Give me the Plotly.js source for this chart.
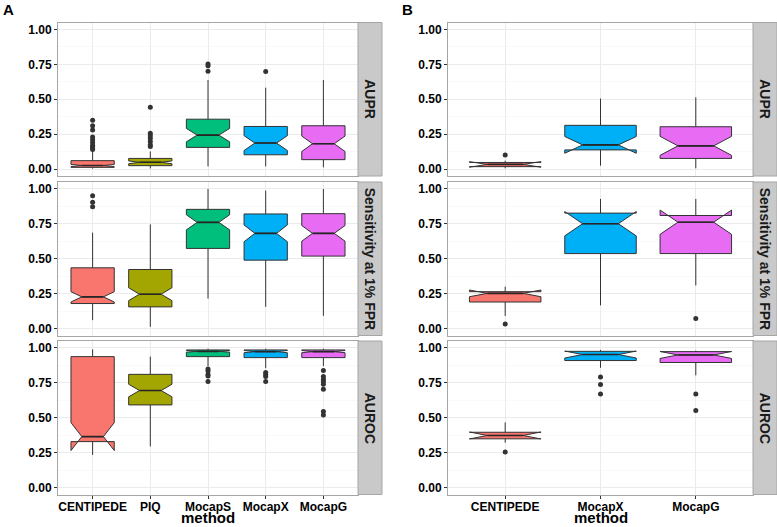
<!DOCTYPE html>
<html>
<head>
<meta charset="utf-8">
<script src="https://cdn.plot.ly/plotly-3.0.1.min.js"></script>
<style>html,body{margin:0;padding:0;background:#fff;}#chart{width:777px;height:527px;}</style>
</head>
<body>
<div id="chart"></div>
<script>
// ---------- categories ----------
const methodsA = ['CENTIPEDE', 'PIQ', 'MocapS', 'MocapX', 'MocapG'];
const methodsB = ['CENTIPEDE', 'MocapX', 'MocapG'];
const metrics = ['AUPR', 'Sensitivity at 1% FPR', 'AUROC'];
const yTickVals = [0, 0.25, 0.5, 0.75, 1];
const yTickText = ['0.00', '0.25', '0.50', '0.75', '1.00'];

// ---------- Panel A : AUPR ----------
const A_AUPR_q1    = [0.012, 0.024, 0.155, 0.102, 0.067];
const A_AUPR_med   = [0.025, 0.048, 0.243, 0.186, 0.181];
const A_AUPR_q3    = [0.060, 0.076, 0.357, 0.305, 0.310];
const A_AUPR_lo    = [0.003, 0.004, 0.019, 0.019, 0.012];
const A_AUPR_hi    = [0.130, 0.126, 0.638, 0.583, 0.638];
const A_AUPR_notch = [0.008, 0.010, 0.048, 0.053, 0.055];
const A_AUPR_out   = [[0.35, 0.31, 0.28, 0.23, 0.21, 0.19, 0.17, 0.16, 0.15, 0.14],
                      [0.443, 0.257, 0.238, 0.221, 0.198, 0.174, 0.162],
                      [0.752, 0.74, 0.70], [0.698], []];
// ---------- Panel A : Sensitivity ----------
const A_SENS_q1    = [0.179, 0.155, 0.574, 0.490, 0.519];
const A_SENS_med   = [0.227, 0.246, 0.761, 0.682, 0.682];
const A_SENS_q3    = [0.435, 0.423, 0.854, 0.821, 0.823];
const A_SENS_lo    = [0.060, 0.012, 0.215, 0.155, 0.091];
const A_SENS_hi    = [0.687, 0.746, 1.000, 0.988, 1.000];
const A_SENS_notch = [0.037, 0.046, 0.054, 0.060, 0.056];
const A_SENS_out   = [[0.952, 0.904, 0.873], [], [], [], []];
// ---------- Panel A : AUROC ----------
const A_AUROC_q1    = [0.329, 0.592, 0.938, 0.931, 0.931];
const A_AUROC_med   = [0.365, 0.695, 0.976, 0.974, 0.974];
const A_AUROC_q3    = [0.938, 0.811, 0.986, 0.986, 0.986];
const A_AUROC_lo    = [0.234, 0.294, 0.870, 0.855, 0.870];
const A_AUROC_hi    = [0.990, 0.938, 0.995, 0.995, 0.995];
const A_AUROC_notch = [0.100, 0.045, 0.006, 0.008, 0.008];
const A_AUROC_out   = [[], [],
                       [0.850, 0.835, 0.810, 0.800, 0.760],
                       [0.825, 0.810, 0.795, 0.760],
                       [0.838, 0.795, 0.776, 0.759, 0.740, 0.704, 0.544, 0.520]];

// ---------- Panel B : AUPR ----------
const B_AUPR_q1    = [0.017, 0.137, 0.076];
const B_AUPR_med   = [0.033, 0.173, 0.166];
const B_AUPR_q3    = [0.047, 0.313, 0.303];
const B_AUPR_lo    = [0.005, 0.024, 0.005];
const B_AUPR_hi    = [0.060, 0.505, 0.514];
const B_AUPR_notch = [0.020, 0.060, 0.068];
const B_AUPR_out   = [[0.100], [], []];
// ---------- Panel B : Sensitivity ----------
const B_SENS_q1    = [0.190, 0.537, 0.537];
const B_SENS_med   = [0.252, 0.751, 0.762];
const B_SENS_q3    = [0.264, 0.827, 0.810];
const B_SENS_lo    = [0.090, 0.166, 0.309];
const B_SENS_hi    = [0.300, 0.929, 0.929];
const B_SENS_notch = [0.024, 0.087, 0.087];
const B_SENS_out   = [[0.033], [], [0.071]];
// ---------- Panel B : AUROC ----------
const B_AUROC_q1    = [0.349, 0.910, 0.896];
const B_AUROC_med   = [0.373, 0.953, 0.950];
const B_AUROC_q3    = [0.396, 0.976, 0.974];
const B_AUROC_lo    = [0.321, 0.858, 0.804];
const B_AUROC_hi    = [0.467, 0.986, 0.981];
const B_AUROC_notch = [0.025, 0.025, 0.025];
const B_AUROC_out   = [[0.255], [0.792, 0.738, 0.670], [0.670, 0.552]];

const colorOf = {CENTIPEDE: '#F8766D', PIQ: '#A3A500', MocapS: '#00BF7D', MocapX: '#00B0F6', MocapG: '#E76BF3'};

// ---------- layout geometry ----------
const W = 777, H = 527;
const panelX = [[58, 358], [448, 753]];
const stripX = [[358, 382], [753, 777]];
const rowY = [[22.5, 176], [182, 335.5], [341, 494.5]];
const px = v => v / W;
const py = v => 1 - v / H;
const FONT = 'Liberation Sans, Arial, sans-serif';

const panels = [
  {methods: methodsA, rows: [
    [A_AUPR_q1, A_AUPR_med, A_AUPR_q3, A_AUPR_lo, A_AUPR_hi, A_AUPR_notch, A_AUPR_out],
    [A_SENS_q1, A_SENS_med, A_SENS_q3, A_SENS_lo, A_SENS_hi, A_SENS_notch, A_SENS_out],
    [A_AUROC_q1, A_AUROC_med, A_AUROC_q3, A_AUROC_lo, A_AUROC_hi, A_AUROC_notch, A_AUROC_out]]},
  {methods: methodsB, rows: [
    [B_AUPR_q1, B_AUPR_med, B_AUPR_q3, B_AUPR_lo, B_AUPR_hi, B_AUPR_notch, B_AUPR_out],
    [B_SENS_q1, B_SENS_med, B_SENS_q3, B_SENS_lo, B_SENS_hi, B_SENS_notch, B_SENS_out],
    [B_AUROC_q1, B_AUROC_med, B_AUROC_q3, B_AUROC_lo, B_AUROC_hi, B_AUROC_notch, B_AUROC_out]]}
];

const traces = [];
const layout = {
  width: W, height: H,
  margin: {l: 0, r: 0, t: 0, b: 0},
  paper_bgcolor: '#ffffff', plot_bgcolor: '#ffffff',
  showlegend: false,
  boxmode: 'overlay',
  font: {family: FONT, color: '#000'},
  shapes: [], annotations: []
};

const tickFont = {family: FONT, size: 12, color: '#000', weight: 'bold'};

let ax = 0;
panels.forEach((p, pi) => {
  p.rows.forEach((r, ri) => {
    ax++;
    const xa = 'x' + (ax === 1 ? '' : ax), ya = 'y' + (ax === 1 ? '' : ax);
    const xKey = 'xaxis' + (ax === 1 ? '' : ax), yKey = 'yaxis' + (ax === 1 ? '' : ax);
    const [q1, med, q3, lo, hi, notch, out] = r;
    p.methods.forEach((m, i) => {
      // notched box
      traces.push({
        type: 'box', xaxis: xa, yaxis: ya,
        x: [m], q1: [q1[i]], median: [med[i]], q3: [q3[i]],
        lowerfence: [lo[i]], upperfence: [hi[i]], notchspan: [notch[i]],
        notched: true, notchwidth: 0.25, width: 0.75, whiskerwidth: 0,
        boxpoints: false,
        fillcolor: colorOf[m],
        line: {color: '#333333', width: 1},
        hoverinfo: 'skip'
      });
      // thick median segment (ggplot fatten) spanning the notch waist
      traces.push({
        type: 'box', xaxis: xa, yaxis: ya,
        x: [m], q1: [med[i]], median: [med[i]], q3: [med[i]],
        lowerfence: [med[i]], upperfence: [med[i]],
        width: 0.375, whiskerwidth: 0, boxpoints: false,
        fillcolor: 'rgba(0,0,0,0)',
        line: {color: '#262626', width: 1.6},
        hoverinfo: 'skip'
      });
      if (out[i].length) {
        traces.push({
          type: 'scatter', mode: 'markers', xaxis: xa, yaxis: ya,
          x: out[i].map(() => m), y: out[i],
          marker: {color: '#333333', size: 5},
          hoverinfo: 'skip'
        });
      }
    });
    const bottom = ri === 2;
    layout[xKey] = {
      domain: [px(panelX[pi][0]), px(panelX[pi][1])],
      anchor: ya,
      type: 'category',
      categoryorder: 'array', categoryarray: p.methods,
      range: [-0.6, p.methods.length - 0.4],
      showgrid: true, gridcolor: '#ebebeb', gridwidth: 1,
      showline: true, mirror: true, linecolor: '#a6a6a6', linewidth: 1,
      zeroline: false,
      ticks: bottom ? 'outside' : '', ticklen: 3, tickcolor: '#333333',
      ticklabelstandoff: -2,
      showticklabels: bottom,
      tickfont: tickFont, fixedrange: true
    };
    layout[yKey] = {
      domain: [py(rowY[ri][1]), py(rowY[ri][0])],
      anchor: xa,
      range: [-0.05, 1.05],
      tickvals: yTickVals, ticktext: yTickText,
      showgrid: true, gridcolor: '#ebebeb', gridwidth: 1,
      minor: {showgrid: true, gridcolor: '#f5f5f5', gridwidth: 0.6, tickvals: [0.125, 0.375, 0.625, 0.875]},
      showline: true, mirror: true, linecolor: '#a6a6a6', linewidth: 1,
      zeroline: false,
      ticks: 'outside', ticklen: 3, tickcolor: '#333333',
      tickfont: tickFont, fixedrange: true
    };
    // strip
    layout.shapes.push({
      type: 'rect', xref: 'paper', yref: 'paper',
      x0: px(stripX[pi][0]), x1: px(stripX[pi][1]),
      y0: py(rowY[ri][1]), y1: py(rowY[ri][0]),
      fillcolor: '#c9c9c9', line: {color: '#a6a6a6', width: 1}
    });
    layout.annotations.push({
      xref: 'paper', yref: 'paper',
      x: px((stripX[pi][0] + stripX[pi][1]) / 2), y: py((rowY[ri][0] + rowY[ri][1]) / 2),
      text: metrics[ri], textangle: 90, showarrow: false,
      xanchor: 'center', yanchor: 'middle',
      font: {family: FONT, size: 14, color: '#1a1a1a', weight: 'bold'}
    });
  });
  // axis title "method"
  layout.annotations.push({
    xref: 'paper', yref: 'paper',
    x: px((panelX[pi][0] + panelX[pi][1]) / 2), y: 0,
    text: 'method', showarrow: false, xanchor: 'center', yanchor: 'bottom',
    borderpad: 0,
    font: {family: FONT, size: 15, color: '#000', weight: 'bold'}
  });
  // panel letter
  layout.annotations.push({
    xref: 'paper', yref: 'paper',
    x: px(pi === 0 ? 1 : 400), y: py(9),
    text: pi === 0 ? 'A' : 'B', showarrow: false, xanchor: 'left', yanchor: 'middle',
    font: {family: FONT, size: 15, color: '#000', weight: 'bold'}
  });
});

Plotly.newPlot('chart', traces, layout, {displayModeBar: false, staticPlot: true});
</script>
</body>
</html>
